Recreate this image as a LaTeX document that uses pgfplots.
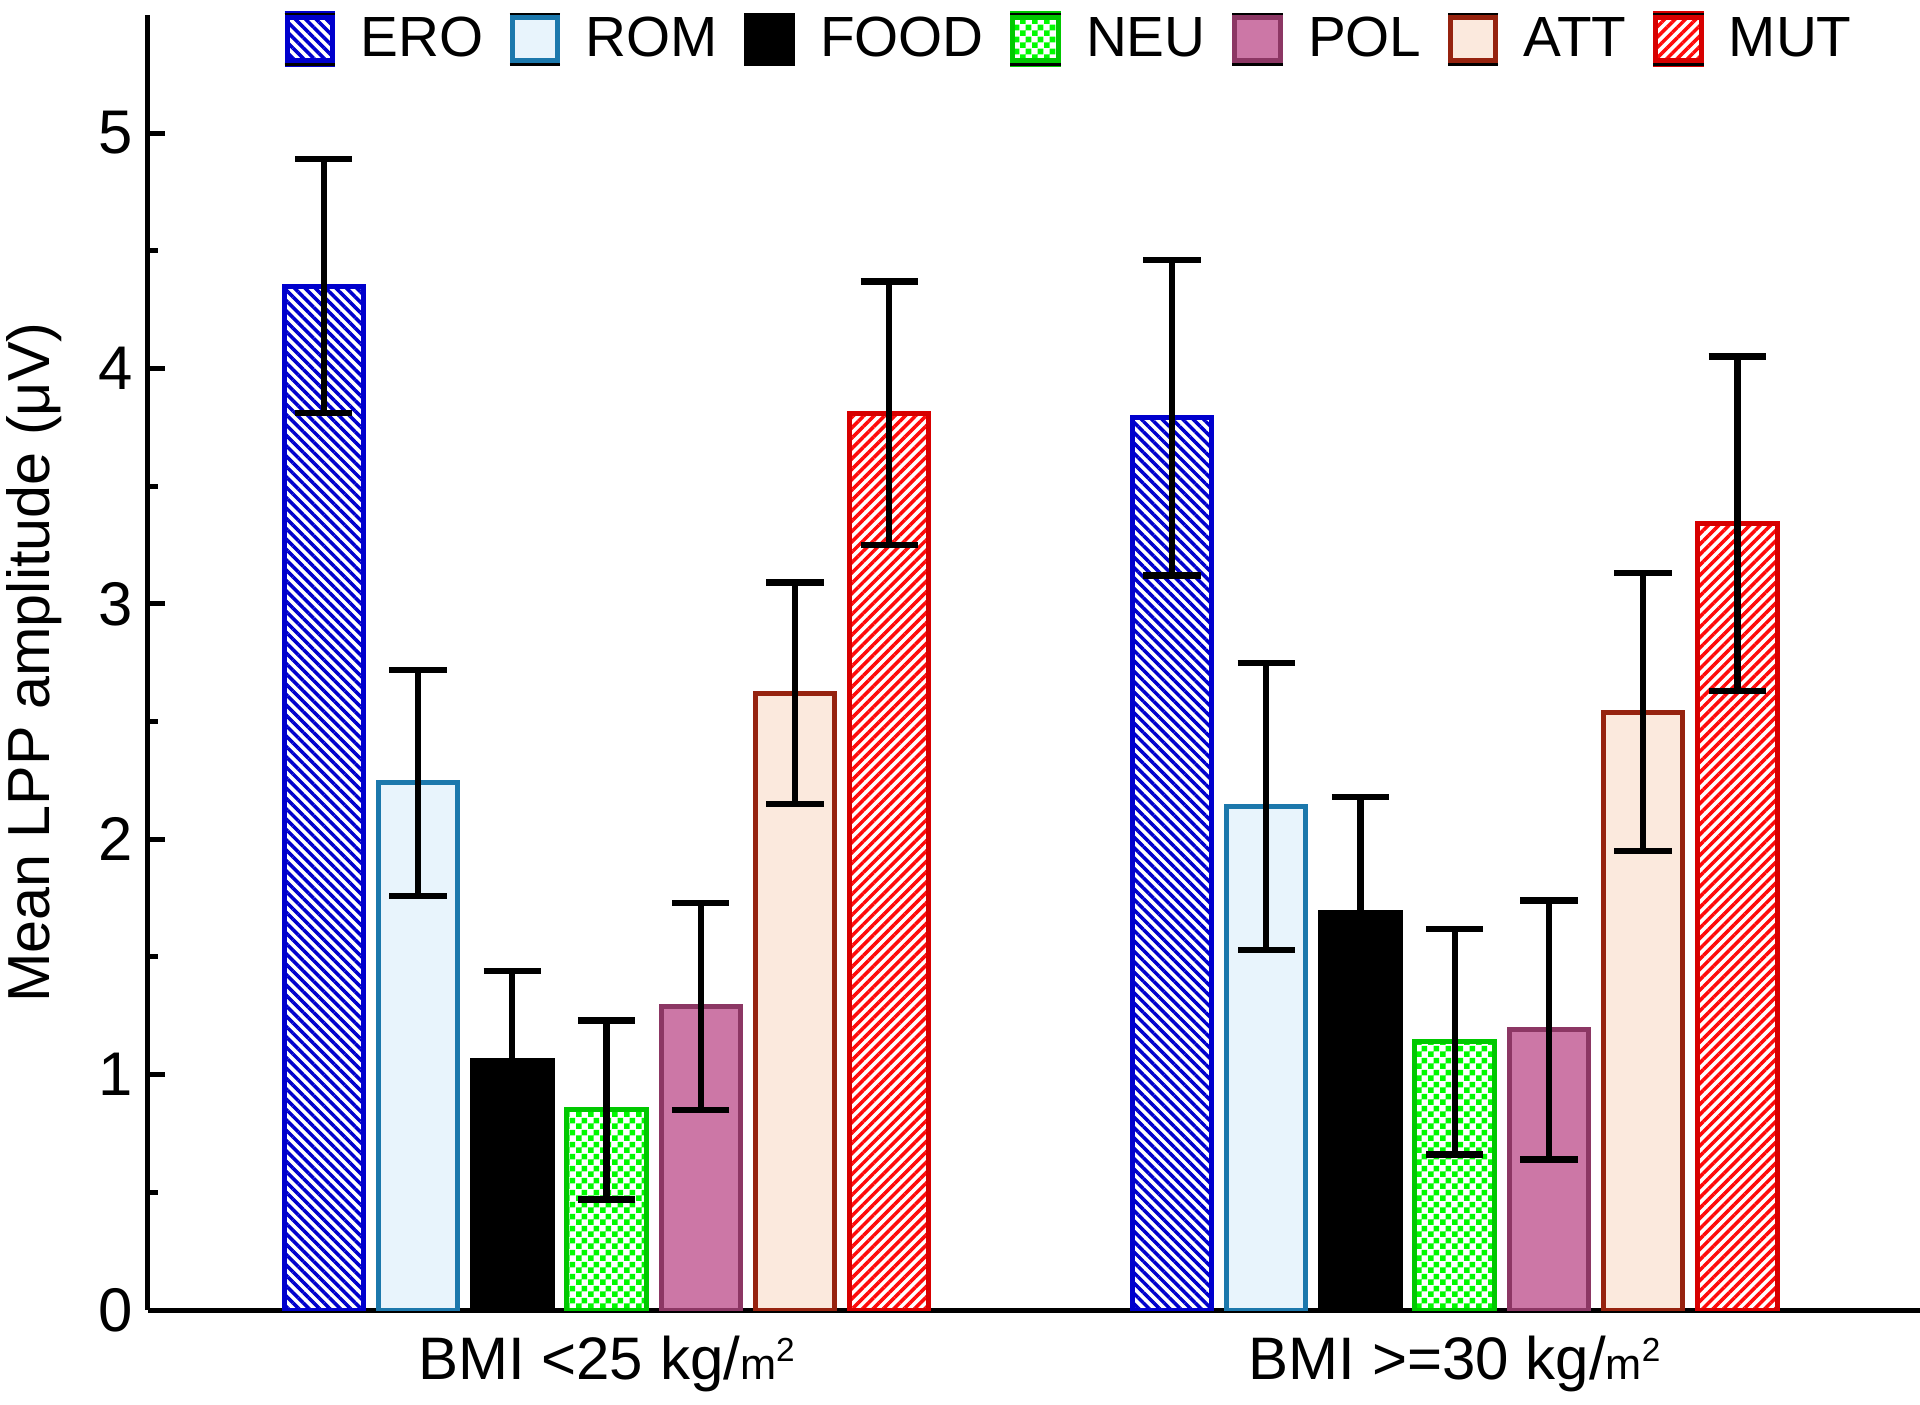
\documentclass[border=0pt]{standalone}
\usepackage{fontspec}
\setmainfont{Liberation Sans}
\usepackage{pgfplots}
\pgfplotsset{compat=1.18}
\usetikzlibrary{patterns,patterns.meta}
\definecolor{eroC}{RGB}{0,0,205}
\definecolor{romC}{RGB}{28,120,172}
\definecolor{romF}{RGB}{232,244,252}
\definecolor{neuC}{RGB}{0,200,0}
\definecolor{neuF}{RGB}{0,250,0}
\definecolor{polC}{RGB}{140,55,100}
\definecolor{polF}{RGB}{204,119,166}
\definecolor{attC}{RGB}{150,35,15}
\definecolor{attF}{RGB}{251,233,221}
\definecolor{mutC}{RGB}{215,0,0}
\definecolor{mutF}{RGB}{255,10,10}
\pgfdeclarepatternformonly{checker}{\pgfpointorigin}{\pgfpoint{3.6pt}{3.6pt}}{\pgfpoint{3.6pt}{3.6pt}}{%
 \pgfpathrectangle{\pgfpointorigin}{\pgfpoint{1.8pt}{1.8pt}}%
 \pgfpathrectangle{\pgfpoint{1.8pt}{1.8pt}}{\pgfpoint{1.8pt}{1.8pt}}%
 \pgfusepath{fill}}
\newcommand{\msq}{{\fontsize{13}{13}\selectfont m\raisebox{5.5pt}{\fontsize{10}{10}\selectfont 2}}}
\begin{document}
\begin{tikzpicture}
\begin{axis}[
 scale only axis, width=531.6pt, height=388.4pt,
 xmin=-0.5406, xmax=1.5486, ymin=0, ymax=5.5,
 axis x line=bottom, axis y line=left,
 axis line style={line width=1.5pt, -},
 ybar, bar width=0.0937,
 xtick={0,1},
 xticklabels={BMI <25 kg/\msq, BMI >=30 kg/\msq},
 x tick label style={font=\fontsize{18}{20}\selectfont, yshift=-4.4pt},
 major x tick style={draw=none},
 ytick={0,1,2,3,4,5}, minor y tick num=1, tick align=inside,
 y tick label style={font=\fontsize{18.5}{20}\selectfont, xshift=-1pt},
 /pgf/number format/assume math mode=true,
 tick style={line width=1.5pt, black}, major tick length=5pt, minor tick length=3pt,
 ylabel={Mean LPP amplitude (μV)},
 ylabel style={font=\fontsize{17.8}{20}\selectfont, at={(axis description cs:-0.0643,0.5)}, anchor=center},
 error bars/y dir=both, error bars/y explicit,
 error bars/error bar style={line width=1.9pt, black},
 error bars/error mark options={rotate=90, mark size=8.6pt, line width=1.9pt, black},
 legend columns=7,
 legend style={draw=none, fill=none, inner sep=0pt, at={(0.0760,0.9815)}, anchor=west,
   font=\fontsize{17}{20}\selectfont, nodes={inner sep=0pt},
   /tikz/every odd column/.append style={column sep=7.2pt},
   /tikz/every even column/.append style={column sep=7.6pt}},
 legend image code/.code={
   \draw[#1, line width=1.5pt] (0pt,-6.5pt) rectangle (13.6pt,6.5pt);
   \draw[black, line width=0.8pt] (-0.75pt,7.6pt) -- (14.35pt,7.6pt);
   \draw[black, line width=0.8pt] (-0.75pt,-7.6pt) -- (14.35pt,-7.6pt);
 },
]
\addplot[bar shift=-0.3333, draw=eroC, line width=1.5pt, preaction={fill=white}, pattern={Lines[angle=-45,distance=2.2pt,line width=1.05pt]}, pattern color=eroC]
 coordinates {(0,4.35) +- (0,0.54) (1,3.79) +- (0,0.67)};
\addplot[bar shift=-0.2222, draw=romC, line width=1.5pt, fill=romF]
 coordinates {(0,2.24) +- (0,0.48) (1,2.14) +- (0,0.61)};
\addplot[bar shift=-0.1111, draw=black, line width=1.5pt, fill=black]
 coordinates {(0,1.06) +- (0,0.38) (1,1.69) +- (0,0.49)};
\addplot[bar shift=0, draw=neuC, line width=1.5pt, preaction={fill=white}, pattern=checker, pattern color=neuF]
 coordinates {(0,0.85) +- (0,0.38) (1,1.14) +- (0,0.48)};
\addplot[bar shift=0.1111, draw=polC, line width=1.5pt, fill=polF]
 coordinates {(0,1.29) +- (0,0.44) (1,1.19) +- (0,0.55)};
\addplot[bar shift=0.2222, draw=attC, line width=1.5pt, fill=attF]
 coordinates {(0,2.62) +- (0,0.47) (1,2.54) +- (0,0.59)};
\addplot[bar shift=0.3333, draw=mutC, line width=1.5pt, preaction={fill=white}, pattern={Lines[angle=45,distance=2.2pt,line width=1.05pt]}, pattern color=mutF]
 coordinates {(0,3.81) +- (0,0.56) (1,3.34) +- (0,0.71)};
\legend{ERO,ROM,FOOD,NEU,POL,ATT,MUT}
\end{axis}
\pgfresetboundingbox
\path (current axis.south west) ++(-44.4pt,-28.2pt) rectangle ++(576pt,421.2pt);
\end{tikzpicture}
\end{document}
